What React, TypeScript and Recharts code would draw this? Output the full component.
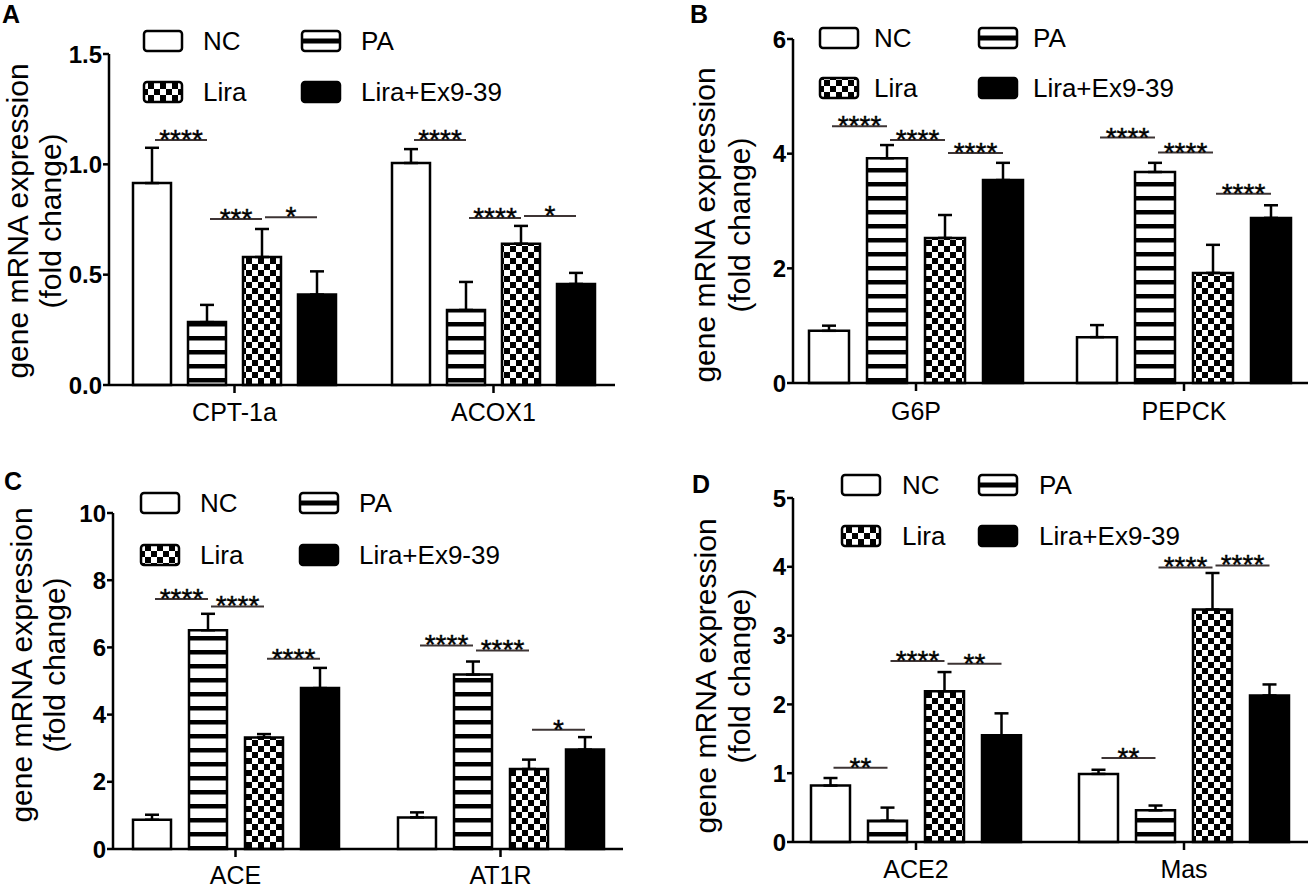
import React from "react";
import { BarChart, Bar, XAxis, YAxis, ErrorBar, Legend } from "recharts";

const FONT = "'Liberation Sans', Arial, sans-serif";

const seriesNames = ["NC", "PA", "Lira", "Lira+Ex9-39"];
const seriesKeys = ["nc", "pa", "lira", "ex"];
const seriesFills = ["#ffffff", "url(#paStripes)", "url(#liraChecks)", "#000000"];

// A: fatty acid oxidation genes
const aGenes = ["CPT-1a", "ACOX1"];
const aMeans = [
  [0.915, 0.285, 0.58, 0.41],
  [1.006, 0.34, 0.64, 0.458],
];
const aSd = [
  [0.16, 0.078, 0.127, 0.105],
  [0.063, 0.127, 0.081, 0.05],
];
// [gene, left bar, label, height]
const aStars = [
  [0, 0, "****", 1.11],
  [0, 1, "***", 0.752],
  [0, 2, "*", 0.76],
  [1, 0, "****", 1.11],
  [1, 1, "****", 0.757],
  [1, 2, "*", 0.766],
];
const aTicks = [0, 0.5, 1.0, 1.5];

// B: gluconeogenesis genes
const bGenes = ["G6P", "PEPCK"];
const bMeans = [
  [0.91, 3.92, 2.53, 3.54],
  [0.8, 3.68, 1.92, 2.88],
];
const bSd = [
  [0.09, 0.23, 0.4, 0.3],
  [0.21, 0.16, 0.49, 0.22],
];
const bStars = [
  [0, 0, "****", 4.48],
  [0, 1, "****", 4.24],
  [0, 2, "****", 4.01],
  [1, 0, "****", 4.28],
  [1, 1, "****", 4.02],
  [1, 2, "****", 3.3],
];
const bTicks = [0, 2, 4, 6];

// C: ACE / AT1R
const cGenes = ["ACE", "AT1R"];
const cMeans = [
  [0.87, 6.51, 3.32, 4.79],
  [0.94, 5.19, 2.38, 2.96],
];
const cSd = [
  [0.15, 0.49, 0.1, 0.6],
  [0.15, 0.39, 0.28, 0.37],
];
const cStars = [
  [0, 0, "****", 7.44],
  [0, 1, "****", 7.22],
  [0, 2, "****", 5.66],
  [1, 0, "****", 6.06],
  [1, 1, "****", 5.91],
  [1, 2, "*", 3.55],
];
const cTicks = [0, 2, 4, 6, 8, 10];

// D: ACE2 / Mas
const dGenes = ["ACE2", "Mas"];
const dMeans = [
  [0.82, 0.31, 2.19, 1.55],
  [0.99, 0.46, 3.38, 2.13],
];
const dSd = [
  [0.11, 0.19, 0.28, 0.32],
  [0.06, 0.07, 0.53, 0.16],
];
const dStars = [
  [0, 0, "**", 1.08],
  [0, 1, "****", 2.63],
  [0, 2, "**", 2.59],
  [1, 0, "**", 1.22],
  [1, 1, "****", 3.99],
  [1, 2, "****", 4.02],
];
const dTicks = [0, 1, 2, 3, 4, 5];

const buildRows = (genes, means, sd) =>
  genes.map((g, i) => {
    const row: any = { name: g };
    seriesKeys.forEach((k, s) => {
      row[k] = means[i][s];
      row[k + "Sd"] = [0, sd[i][s]];
    });
    return row;
  });

const starLabel = (series, stars, genes, pitch) => (props: any) => {
  const box = props.viewBox || props;
  const { x, y, width, height } = box;
  let index = props.index;
  if (index == null && props.payload) index = genes.indexOf(props.payload.name);
  const value = Number(props.value);
  const marks = stars.filter((m) => m[0] === index && m[1] === series);
  if (!marks.length || !value) return null;
  const bottom = y + height;
  const perUnit = height / value;
  const cx = x + width / 2;
  return (
    <g>
      {marks.map((m, k) => {
        const ly = bottom - m[3] * perUnit;
        const x1 = cx + 3;
        const x2 = cx + pitch;
        return (
          <g key={k}>
            <line x1={x1} x2={x2} y1={ly} y2={ly} stroke="#3d3434" strokeWidth={2} />
            <text
              x={(x1 + x2) / 2}
              y={ly + 9}
              textAnchor="middle"
              fontSize={28}
              fontFamily={FONT}
              fill="#000"
              stroke="#000"
              strokeWidth={0.4}
            >
              {m[2]}
            </text>
          </g>
        );
      })}
    </g>
  );
};

const Swatch = ({ x, y, idx }) => {
  const w = 38;
  const h = 20;
  if (idx === 1) {
    return (
      <g>
        <rect x={x} y={y} width={w} height={h} rx={3} fill="#fff" stroke="#000" strokeWidth={2.5} />
        <rect x={x} y={y + h / 2 - 2.5} width={w} height={5} fill="#000" />
      </g>
    );
  }
  return (
    <rect x={x} y={y} width={w} height={h} rx={3} fill={seriesFills[idx]} stroke="#000" strokeWidth={2.5} />
  );
};

const makeLegend = (cfg) => (props: any) => {
  const names = (props.payload && props.payload.length ? props.payload.map((p: any) => p.value) : seriesNames.slice())
    .sort((a: string, b: string) => seriesNames.indexOf(a) - seriesNames.indexOf(b));
  return (
    <svg width={cfg.col + 200} height={cfg.row + 30} style={{ overflow: "visible" }}>
      {names.map((name: string, k: number) => {
        const idx = seriesNames.indexOf(name);
        const col = k % 2;
        const row = Math.floor(k / 2);
        const sx = 2 + col * cfg.col;
        const sy = 2 + row * cfg.row;
        return (
          <g key={name}>
            <Swatch x={sx} y={sy} idx={idx} />
            <text
              x={sx + cfg.text}
              y={sy + 10}
              dominantBaseline="central"
              fontSize={26}
              fontFamily={FONT}
              fill="#000"
            >
              {name}
            </text>
          </g>
        );
      })}
    </svg>
  );
};

const Panel = ({ cfg, genes, means, sd, stars, ticks, domain, fmt }) => {
  const rows = buildRows(genes, means, sd);
  const pitch = cfg.barSize + cfg.barGap;
  return (
    <div style={{ position: "absolute", left: cfg.left, top: cfg.top, width: cfg.width, height: cfg.height }}>
      <BarChart
        width={cfg.width}
        height={cfg.height}
        data={rows}
        margin={{ top: cfg.mTop, right: cfg.mRight, left: 0, bottom: 0 }}
        barSize={cfg.barSize}
        barGap={cfg.barGap}
      >
        <XAxis
          dataKey="name"
          height={cfg.xh}
          padding={cfg.pad}
          tickSize={8}
          tickMargin={cfg.xTickMargin}
          axisLine={{ stroke: "#000", strokeWidth: 2.5 }}
          tickLine={{ stroke: "#000", strokeWidth: 2.5 }}
          tick={{ fontSize: 25, fill: "#000", fontFamily: FONT }}
          interval={0}
        />
        <YAxis
          width={cfg.yw}
          domain={domain}
          ticks={ticks}
          tickFormatter={fmt}
          tickSize={6}
          tickMargin={1}
          interval={0}
          axisLine={{ stroke: "#000", strokeWidth: 2.5 }}
          tickLine={{ stroke: "#000", strokeWidth: 2.5 }}
          tick={{ fontSize: 24, fontWeight: 700, fill: "#000", fontFamily: FONT }}
          label={(p: any) => {
            const vx = (p.viewBox && p.viewBox.x) || 0;
            const cy = cfg.labY;
            return (
              <g fontFamily={FONT} fontSize={30} fill="#000">
                <text
                  x={vx + cfg.lab1}
                  y={cy}
                  transform={`rotate(-90 ${vx + cfg.lab1} ${cy})`}
                  textAnchor="middle"
                  dominantBaseline="central"
                >
                  gene mRNA expression
                </text>
                <text
                  x={vx + cfg.lab2}
                  y={cy}
                  transform={`rotate(-90 ${vx + cfg.lab2} ${cy})`}
                  textAnchor="middle"
                  dominantBaseline="central"
                >
                  (fold change)
                </text>
              </g>
            );
          }}
        />
        <Legend
          verticalAlign="middle"
          align="center"
          layout="horizontal"
          wrapperStyle={{ left: cfg.lgX - 2, top: cfg.lgY - 2, width: cfg.lgCol + 200 }}
          content={makeLegend({ col: cfg.lgCol, row: cfg.lgRow, text: cfg.lgText })}
        />
        {seriesKeys.map((k, s) => (
          <Bar
            key={k}
            dataKey={k}
            name={seriesNames[s]}
            fill={seriesFills[s]}
            stroke="#000"
            strokeWidth={2.5}
            isAnimationActive={false}
            label={starLabel(s, stars, genes, pitch)}
          >
            <ErrorBar dataKey={k + "Sd"} width={7} stroke="#000" strokeWidth={2.5} direction="y" />
          </Bar>
        ))}
      </BarChart>
    </div>
  );
};

const cfgA = {
  left: 0, top: 0, width: 650, height: 440, mTop: 54, mRight: 35, yw: 109, xh: 55, xTickMargin: 10,
  pad: { left: -4, right: -8 },
  lab1: 17, lab2: 50, labY: 221, lgX: 144, lgY: 31, lgCol: 158, lgRow: 51, lgText: 59, barSize: 38, barGap: 17,
};
const cfgB = {
  left: 650, top: 0, width: 661, height: 440, mTop: 39, mRight: 3, yw: 143, xh: 57, xTickMargin: 11,
  pad: { left: -11, right: -10 },
  lab1: 54, lab2: 89, labY: 225, lgX: 170, lgY: 28, lgCol: 159, lgRow: 50, lgText: 54, barSize: 40, barGap: 18,
};
const cfgC = {
  left: 0, top: 440, width: 650, height: 448, mTop: 73, mRight: 27, yw: 113, xh: 39, xTickMargin: 9,
  pad: { left: -10, right: -10 },
  lab1: 21, lab2: 54, labY: 225, lgX: 141, lgY: 53, lgCol: 159, lgRow: 52, lgText: 59, barSize: 38, barGap: 18,
};
const cfgD = {
  left: 650, top: 440, width: 661, height: 448, mTop: 58, mRight: 3, yw: 143, xh: 46, xTickMargin: 10,
  pad: { left: -11, right: -10 },
  lab1: 55, lab2: 89, labY: 236, lgX: 192, lgY: 35, lgCol: 137, lgRow: 51, lgText: 60, barSize: 39, barGap: 18,
};

export default function App() {
  return (
    <div style={{ position: "absolute", left: 0, top: 0, width: 1311, height: 888, background: "#fff", fontFamily: FONT }}>
      <svg width={0} height={0} style={{ position: "absolute" }}>
        <defs>
          <pattern id="paStripes" patternUnits="userSpaceOnUse" width={14} height={14}>
            <rect width={14} height={14} fill="#fff" />
            <rect y={0} width={14} height={4.5} fill="#000" />
          </pattern>
          <pattern id="liraChecks" patternUnits="userSpaceOnUse" width={12} height={12}>
            <rect width={12} height={12} fill="#fff" />
            <rect x={0} y={0} width={6} height={6} fill="#000" />
            <rect x={6} y={6} width={6} height={6} fill="#000" />
          </pattern>
        </defs>
      </svg>
      <Panel cfg={cfgA} genes={aGenes} means={aMeans} sd={aSd} stars={aStars} ticks={aTicks} domain={[0, 1.5]} fmt={(v) => Number(v).toFixed(1)} />
      <Panel cfg={cfgB} genes={bGenes} means={bMeans} sd={bSd} stars={bStars} ticks={bTicks} domain={[0, 6]} fmt={(v) => String(v)} />
      <Panel cfg={cfgC} genes={cGenes} means={cMeans} sd={cSd} stars={cStars} ticks={cTicks} domain={[0, 10]} fmt={(v) => String(v)} />
      <Panel cfg={cfgD} genes={dGenes} means={dMeans} sd={dSd} stars={dStars} ticks={dTicks} domain={[0, 5]} fmt={(v) => String(v)} />
      <svg width={1311} height={888} style={{ position: "absolute", left: 0, top: 0, pointerEvents: "none" }}>
        <g fontFamily={FONT} fontWeight={700} fontSize={25} fill="#000">
          <text x={2} y={23}>A</text>
          <text x={690} y={23}>B</text>
          <text x={4} y={490}>C</text>
          <text x={692} y={493}>D</text>
        </g>
      </svg>
    </div>
  );
}
